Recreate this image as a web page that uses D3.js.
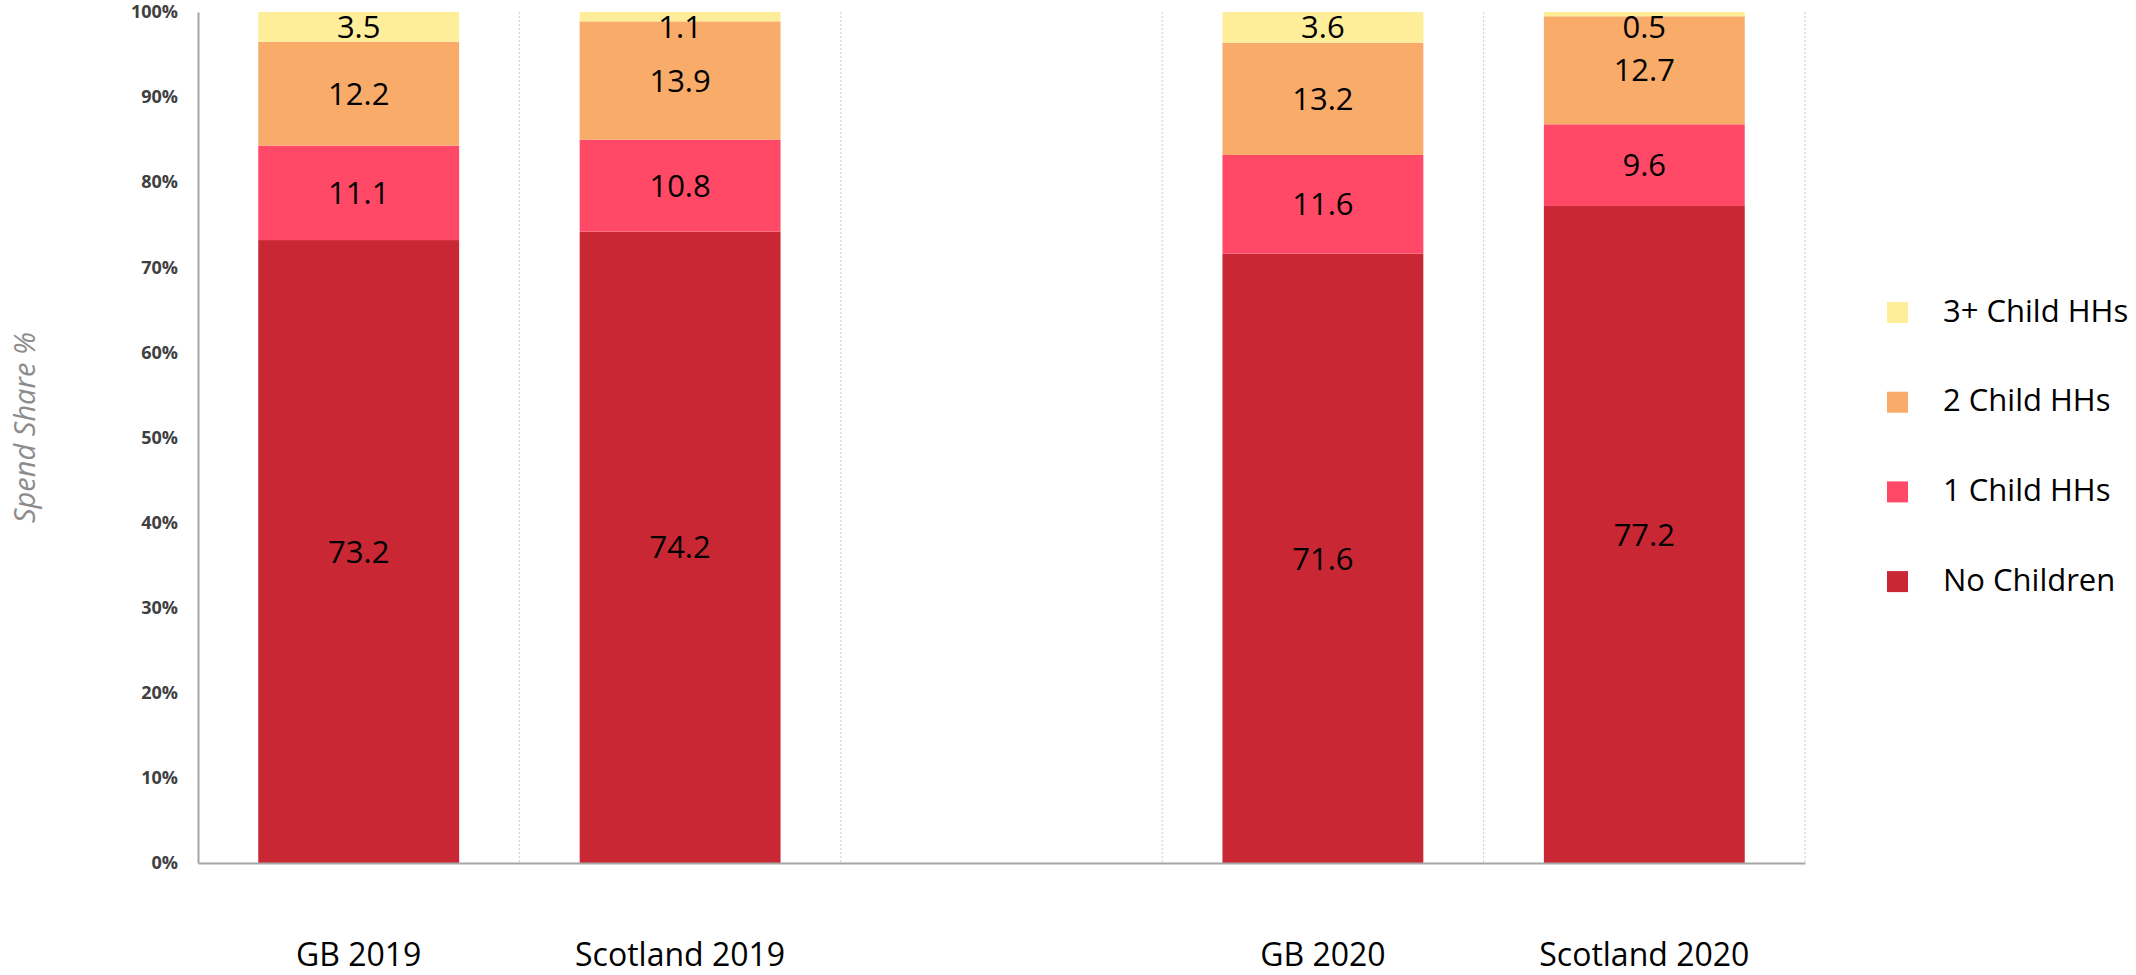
<!DOCTYPE html>
<html>
<head>
<meta charset="utf-8">
<script src="https://cdn.jsdelivr.net/npm/d3@7"></script>
<style>
  html, body { margin: 0; padding: 0; background: #ffffff; }
  svg { display: block; }
</style>
</head>
<body>
<div id="chart"></div>
<script>
// Category slots along the x axis ("" is the empty spacer slot between the years)
const categories = ["GB 2019", "Scotland 2019", "", "GB 2020", "Scotland 2020"];

// Spend share (%) by household type, one value per non-empty category
const barCategories = ["GB 2019", "Scotland 2019", "GB 2020", "Scotland 2020"];
const noChildren   = [73.2, 74.2, 71.6, 77.2];
const oneChild     = [11.1, 10.8, 11.6, 9.6];
const twoChild     = [12.2, 13.9, 13.2, 12.7];
const threePlus    = [3.5, 1.1, 3.6, 0.5];

const seriesNames  = ["No Children", "1 Child HHs", "2 Child HHs", "3+ Child HHs"];
const seriesColors = ["#C92733", "#FF4966", "#F9AC6A", "#FFEE99"];

const yTicks = [0, 10, 20, 30, 40, 50, 60, 70, 80, 90, 100];

const W = 2136, H = 975;
const plot = { left: 198, right: 1805, top: 12, bottom: 863 };

const svg = d3.select("#chart").append("svg")
  .attr("width", W).attr("height", H);

const x = d3.scaleBand()
  .domain(categories)
  .range([plot.left, plot.right])
  .paddingInner(0.375)
  .paddingOuter(0.1875);

const y = d3.scaleLinear().domain([0, 100]).range([plot.bottom, plot.top]);

const color = d3.scaleOrdinal().domain(seriesNames).range(seriesColors);

// Table rows for the stack layout
const rows = barCategories.map((c, i) => ({
  category: c,
  "No Children": noChildren[i],
  "1 Child HHs": oneChild[i],
  "2 Child HHs": twoChild[i],
  "3+ Child HHs": threePlus[i]
}));
const stacked = d3.stack().keys(seriesNames)(rows);

// Dotted separators at each slot boundary
const step = x.step();
const boundaries = d3.range(1, categories.length + 1).map(i => plot.left + i * step);
svg.append("g")
  .selectAll("line")
  .data(boundaries)
  .join("line")
  .attr("x1", d => d).attr("x2", d => d)
  .attr("y1", plot.top).attr("y2", plot.bottom)
  .attr("stroke", "#d4d4d4")
  .attr("stroke-width", 1.2)
  .attr("stroke-dasharray", "2,2");

// Stacked bars
const layers = svg.append("g").selectAll("g")
  .data(stacked)
  .join("g")
  .attr("fill", d => color(d.key));

layers.selectAll("rect")
  .data(d => d)
  .join("rect")
  .attr("x", d => x(d.data.category))
  .attr("width", x.bandwidth())
  .attr("y", d => y(d[1]))
  .attr("height", d => y(d[0]) - y(d[1]));

// Value labels, centred in each segment but kept inside the plot top
const labelFont = "'Open Sans', 'Noto Sans', sans-serif";
const minLabelY = plot.top + 15;
svg.append("g").selectAll("g")
  .data(stacked)
  .join("g")
  .selectAll("text")
  .data(d => d.map(s => ({ s, key: d.key })))
  .join("text")
  .attr("x", d => x(d.s.data.category) + x.bandwidth() / 2)
  .attr("y", d => Math.max((y(d.s[0]) + y(d.s[1])) / 2, minLabelY))
  .attr("dy", "0.36em")
  .attr("text-anchor", "middle")
  .attr("font-family", labelFont)
  .attr("font-size", 31)
  .attr("fill", "#000")
  .text(d => d.s.data[d.key].toFixed(1));

// Y axis
const yAxis = svg.append("g")
  .attr("transform", `translate(${plot.left},0)`)
  .call(d3.axisLeft(y).tickValues(yTicks).tickSize(0).tickPadding(20).tickFormat(d => d + "%"));
yAxis.select(".domain").attr("stroke", "#a6a6a6").attr("stroke-width", 2);
yAxis.selectAll("text")
  .attr("font-family", labelFont)
  .attr("font-weight", "bold")
  .attr("font-size", 18)
  .attr("fill", "#404040");

// X axis
const xAxis = svg.append("g")
  .attr("transform", `translate(0,${plot.bottom})`)
  .call(d3.axisBottom(x).tickSize(0).tickPadding(80));
xAxis.select(".domain").attr("stroke", "#a6a6a6").attr("stroke-width", 2);
xAxis.selectAll("text")
  .attr("font-family", labelFont)
  .attr("font-size", 32)
  .attr("fill", "#000");

// Y axis title
svg.append("text")
  .attr("transform", `translate(35,${(plot.top + plot.bottom) / 2 - 10}) rotate(-90)`)
  .attr("text-anchor", "middle")
  .attr("font-family", labelFont)
  .attr("font-style", "italic")
  .attr("font-size", 29)
  .attr("fill", "#8c8c8c")
  .text("Spend Share %");

// Legend, top entry is the top stack layer
const legendItems = seriesNames.slice().reverse();
const legend = svg.append("g")
  .selectAll("g")
  .data(legendItems)
  .join("g")
  .attr("transform", (d, i) => `translate(1887,${312.5 + i * 89.7})`);
legend.append("rect")
  .attr("x", 0).attr("y", -10.5)
  .attr("width", 21).attr("height", 21)
  .attr("fill", d => color(d));
legend.append("text")
  .attr("x", 56).attr("y", -2).attr("dy", "0.36em")
  .attr("font-family", labelFont)
  .attr("font-size", 31)
  .attr("fill", "#000")
  .text(d => d);
</script>
</body>
</html>
